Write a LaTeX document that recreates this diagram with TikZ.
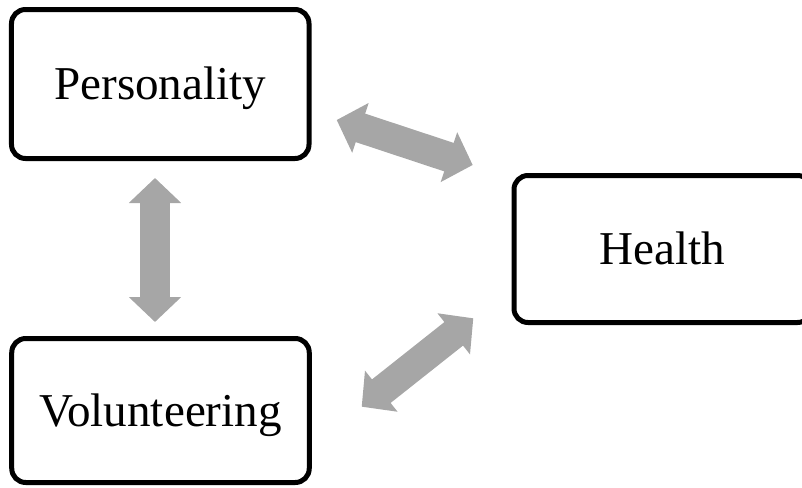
\documentclass[tikz,border=0pt]{standalone}
\usepackage{fontspec}
\setmainfont{Liberation Serif}
\usetikzlibrary{arrows.meta}
\definecolor{linkgray}{RGB}{166,166,166}
\begin{document}
\begin{tikzpicture}[
    box/.style={draw, line width=0.05cm, rounded corners=0.14cm, minimum width=2.975cm,
        minimum height=1.47cm, text height=0.31cm, text depth=0pt,
        font=\fontsize{13.4}{15}\selectfont},
    link/.style={linkgray, line width=0.30cm,
        {Triangle[length=0.25cm 0, width=0.51cm 0]}-{Triangle[length=0.25cm 0, width=0.51cm 0]}}
]
    \useasboundingbox (0,0) rectangle (8.02,4.87);
    \node[box, minimum height=1.49cm] (pers) at (1.6025,4.03) {Personality};
    \node[box] (health) at (6.6275,2.38) {Health};
    \node[box, minimum height=1.44cm] (vol) at (1.605,0.765) {Volunteering};
    \coordinate (pv1) at (1.55,3.09);
    \coordinate (pv2) at (1.55,1.65);
    \coordinate (ph1) at (3.367,3.67);
    \coordinate (ph2) at (4.727,3.22);
    \coordinate (vh1) at (3.617,0.803);
    \coordinate (vh2) at (4.733,1.687);
    \draw[link] (pv1) -- (pv2);
    \draw[link] (ph1) -- (ph2);
    \draw[link] (vh1) -- (vh2);
\end{tikzpicture}
\end{document}
